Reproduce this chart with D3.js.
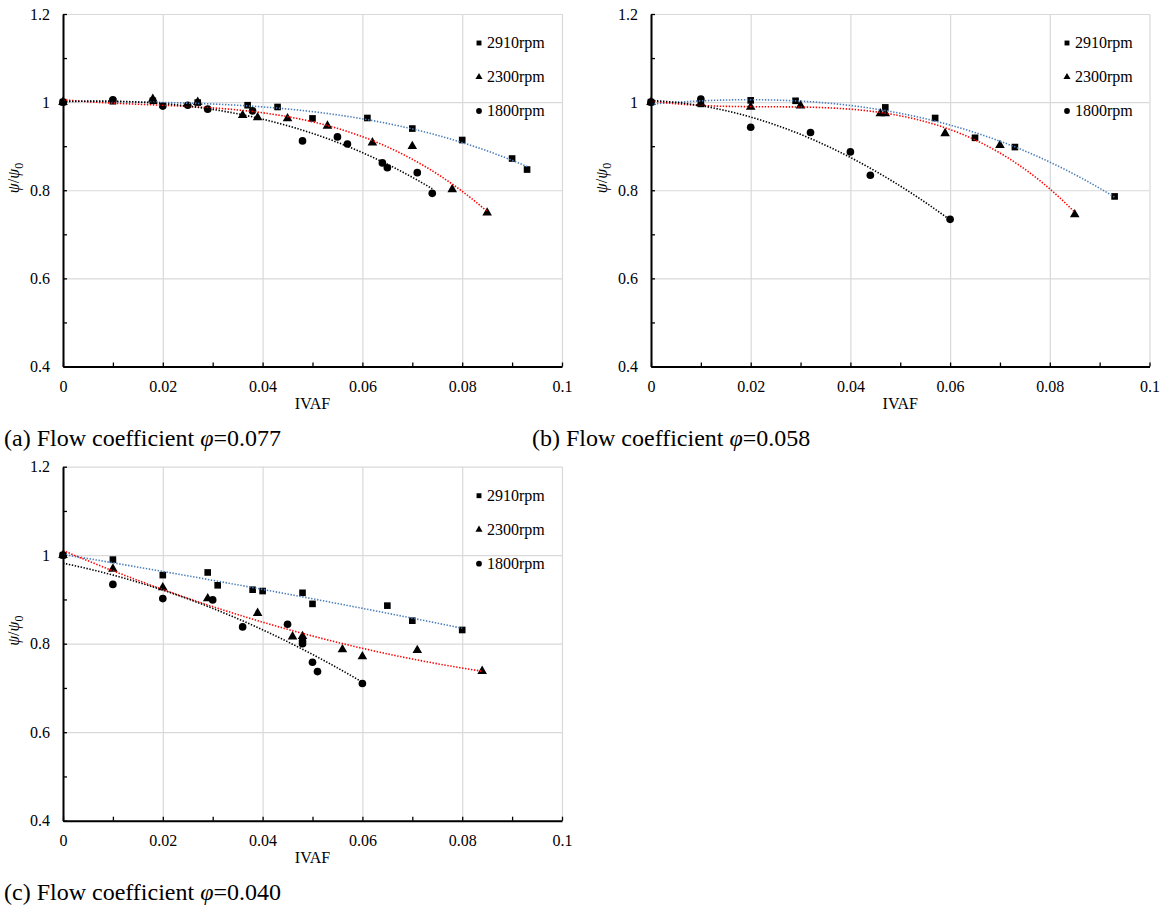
<!DOCTYPE html>
<html>
<head>
<meta charset="utf-8">
<script src="https://cdn.jsdelivr.net/npm/d3@7"></script>
<style>
  body { margin: 0; background: #fff; }
  svg text { font-family: "Times New Roman", "Liberation Serif", "DejaVu Serif", serif; fill: #000; }
</style>
</head>
<body>
<svg id="chart" width="1164" height="906"></svg>
<script>
// series shared by every panel
const seriesNames = ['2910rpm', '2300rpm', '1800rpm'];
const fitColors = ['#4a7ebb', '#ff0000', '#000000'];

// tick labels
const xTicks = [0, 0.02, 0.04, 0.06, 0.08, 0.1];
const xMinor = [0, 0.01, 0.02, 0.03, 0.04, 0.05, 0.06, 0.07, 0.08, 0.09, 0.1];
const yTicks = [0.4, 0.6, 0.8, 1, 1.2];
const yMinor = [0.4, 0.5, 0.6, 0.7, 0.8, 0.9, 1, 1.1, 1.2];

// (a) phi = 0.077  [IVAF, psi/psi0]
const a2910 = [[0, 1], [0.01, 1.002], [0.018, 1.003], [0.027, 0.999], [0.037, 0.993], [0.043, 0.989],
  [0.05, 0.963], [0.061, 0.964], [0.07, 0.94], [0.08, 0.914], [0.09, 0.872], [0.093, 0.847]];
const a2300 = [[0, 1], [0.018, 1.007], [0.027, 1.0], [0.036, 0.97], [0.039, 0.965], [0.045, 0.963],
  [0.053, 0.946], [0.062, 0.908], [0.07, 0.9], [0.078, 0.802], [0.085, 0.749]];
const a1800 = [[0, 1], [0.01, 1.005], [0.02, 0.991], [0.025, 0.993], [0.029, 0.984], [0.038, 0.98],
  [0.048, 0.912], [0.055, 0.921], [0.057, 0.905], [0.064, 0.862], [0.065, 0.851], [0.071, 0.84], [0.074, 0.793]];

// (b) phi = 0.058
const b2910 = [[0, 1], [0.01, 0.996], [0.02, 1.004], [0.029, 1.003], [0.047, 0.988], [0.057, 0.964],
  [0.065, 0.919], [0.073, 0.898], [0.093, 0.786]];
const b2300 = [[0, 1], [0.01, 0.997], [0.02, 0.989], [0.03, 0.992], [0.046, 0.974], [0.047, 0.974],
  [0.059, 0.929], [0.07, 0.902], [0.085, 0.745]];
const b1800 = [[0, 1], [0.01, 1.007], [0.02, 0.943], [0.032, 0.931], [0.04, 0.887], [0.044, 0.834], [0.06, 0.734]];

// (c) phi = 0.040
const c2910 = [[0, 1], [0.01, 0.99], [0.02, 0.955], [0.029, 0.961], [0.031, 0.932], [0.038, 0.922],
  [0.04, 0.919], [0.048, 0.915], [0.05, 0.89], [0.065, 0.886], [0.07, 0.852], [0.08, 0.831]];
const c2300 = [[0, 1], [0.01, 0.969], [0.02, 0.927], [0.029, 0.902], [0.039, 0.869], [0.046, 0.816],
  [0.048, 0.817], [0.056, 0.787], [0.06, 0.771], [0.071, 0.785], [0.084, 0.738]];
const c1800 = [[0, 1], [0.01, 0.934], [0.02, 0.902], [0.03, 0.899], [0.036, 0.838], [0.045, 0.844],
  [0.048, 0.806], [0.048, 0.8], [0.05, 0.758], [0.051, 0.737], [0.06, 0.71]];

const captions = ['(a) Flow coefficient ', '(b) Flow coefficient ', '(c) Flow coefficient '];
const phiValues = ['=0.077', '=0.058', '=0.040'];
const fitOrders = [3, 3, 2];

const panels = [
  {data: [a2910, a2300, a1800], left: 63, top: 14, right: 562, bottom: 366.5},
  {data: [b2910, b2300, b1800], left: 651, top: 14, right: 1149.5, bottom: 366.5},
  {data: [c2910, c2300, c1800], left: 63, top: 466.7, right: 562, bottom: 820.7}
];

const symbolTypes = [d3.symbolSquare, d3.symbolTriangle, d3.symbolCircle];
const symbolSizes = [44, 40, 46];
const legendSizes = [24, 22, 26];
const serif = '"Times New Roman", "Liberation Serif", "DejaVu Serif", serif';

// least squares polynomial trendline (like a spreadsheet poly trendline)
function polyfit(pts, order) {
  const n = order + 1;
  const m = Array.from({length: n}, () => new Array(n + 1).fill(0));
  pts.forEach(([x, y]) => {
    const s = x * 100;
    for (let i = 0; i < n; i++) {
      for (let j = 0; j < n; j++) m[i][j] += Math.pow(s, i + j);
      m[i][n] += y * Math.pow(s, i);
    }
  });
  for (let c = 0; c < n; c++) {
    let p = c;
    for (let r = c + 1; r < n; r++) if (Math.abs(m[r][c]) > Math.abs(m[p][c])) p = r;
    [m[c], m[p]] = [m[p], m[c]];
    for (let r = 0; r < n; r++) {
      if (r === c) continue;
      const f = m[r][c] / m[c][c];
      for (let k = c; k <= n; k++) m[r][k] -= f * m[c][k];
    }
  }
  const coef = m.map((row, i) => row[n] / row[i]);
  return x => coef.reduce((acc, c, i) => acc + c * Math.pow(x * 100, i), 0);
}

const svg = d3.select('#chart');

panels.forEach((p, pi) => {
  const x = d3.scaleLinear().domain([0, 0.1]).range([p.left, p.right]);
  const y = d3.scaleLinear().domain([0.4, 1.2]).range([p.bottom, p.top]);
  const w = p.right - p.left, h = p.bottom - p.top;
  const g = svg.append('g');

  // gridlines
  g.append('g')
    .attr('transform', `translate(0,${p.bottom})`)
    .call(d3.axisBottom(x).tickValues(xTicks).tickSize(-h).tickFormat(''))
    .call(s => s.select('.domain').remove())
    .call(s => s.selectAll('line').attr('stroke', '#d9d9d9').attr('stroke-width', 1.2));
  g.append('g')
    .attr('transform', `translate(${p.left},0)`)
    .call(d3.axisLeft(y).tickValues(yTicks).tickSize(-w).tickFormat(''))
    .call(s => s.select('.domain').remove())
    .call(s => s.selectAll('line').attr('stroke', '#d9d9d9').attr('stroke-width', 1.2));

  // markers
  p.data.forEach((pts, si) => {
    g.append('g').selectAll('path').data(pts).join('path')
      .attr('transform', d => `translate(${x(d[0])},${y(d[1])})`)
      .attr('d', d3.symbol().type(symbolTypes[si]).size(symbolSizes[si]))
      .attr('fill', '#000');
  });

  // trendlines
  p.data.forEach((pts, si) => {
    const f = polyfit(pts, fitOrders[pi]);
    const xs = d3.extent(pts, d => d[0]);
    const samples = d3.range(0, 61).map(i => xs[0] + (xs[1] - xs[0]) * i / 60);
    g.append('path')
      .datum(samples)
      .attr('d', d3.line().x(d => x(d)).y(d => y(f(d))))
      .attr('fill', 'none')
      .attr('stroke', fitColors[si])
      .attr('stroke-width', 1.6)
      .attr('stroke-dasharray', '1.4 1.6');
  });

  // axes with inside ticks
  g.append('g').attr('transform', `translate(${p.left},0)`)
    .call(d3.axisLeft(y).tickValues(yMinor).tickSize(-4).tickSizeOuter(0).tickFormat(''))
    .call(s => s.selectAll('line').attr('stroke-width', 1.3))
    .call(s => s.select('.domain').attr('stroke-width', 2));
  g.append('g').attr('transform', `translate(${p.left},0)`)
    .call(d3.axisLeft(y).tickValues(yTicks).tickSize(0).tickPadding(13).tickFormat(d3.format('~g')))
    .attr('font-family', serif)
    .call(s => s.select('.domain').remove())
    .call(s => s.selectAll('text').attr('font-size', 16));

  g.append('g').attr('transform', `translate(0,${p.bottom})`)
    .call(d3.axisBottom(x).tickValues(xMinor).tickSize(-4).tickSizeOuter(0).tickFormat(''))
    .call(s => s.selectAll('line').attr('stroke-width', 1.3))
    .call(s => s.select('.domain').attr('stroke-width', 2));
  g.append('g').attr('transform', `translate(0,${p.bottom})`)
    .call(d3.axisBottom(x).tickValues(xTicks).tickSize(0).tickPadding(14).tickFormat(d3.format('~g')))
    .attr('font-family', serif)
    .call(s => s.select('.domain').remove())
    .call(s => s.selectAll('text').attr('font-size', 16));

  // axis titles
  g.append('text')
    .attr('x', (p.left + p.right) / 2)
    .attr('y', p.bottom + 42)
    .attr('text-anchor', 'middle')
    .attr('font-size', 16)
    .text('IVAF');

  const yl = g.append('text')
    .attr('transform', `translate(${p.left - 44},${p.top + 164}) rotate(-90)`)
    .attr('text-anchor', 'middle')
    .attr('font-size', 16);
  yl.append('tspan').attr('font-style', 'italic').text('ψ');
  yl.append('tspan').text('/');
  yl.append('tspan').attr('font-style', 'italic').text('ψ');
  yl.append('tspan').attr('font-size', 12).attr('dy', 4).text('0');

  // legend
  const lg = g.append('g').attr('transform', `translate(${p.left + 416},${p.top + 29})`);
  seriesNames.forEach((name, si) => {
    const row = lg.append('g').attr('transform', `translate(0,${si * 34})`);
    row.append('path')
      .attr('d', d3.symbol().type(symbolTypes[si]).size(legendSizes[si]))
      .attr('fill', '#000');
    row.append('text')
      .attr('x', 8)
      .attr('dy', '0.33em')
      .attr('font-size', 16)
      .text(name);
  });

  // caption
  const cap = svg.append('text')
    .attr('x', pi === 1 ? 532 : 4)
    .attr('y', p.bottom + 79)
    .attr('font-size', 24);
  cap.append('tspan').text(captions[pi]);
  cap.append('tspan').attr('font-style', 'italic').text('φ');
  cap.append('tspan').text(phiValues[pi]);
});
</script>
</body>
</html>
